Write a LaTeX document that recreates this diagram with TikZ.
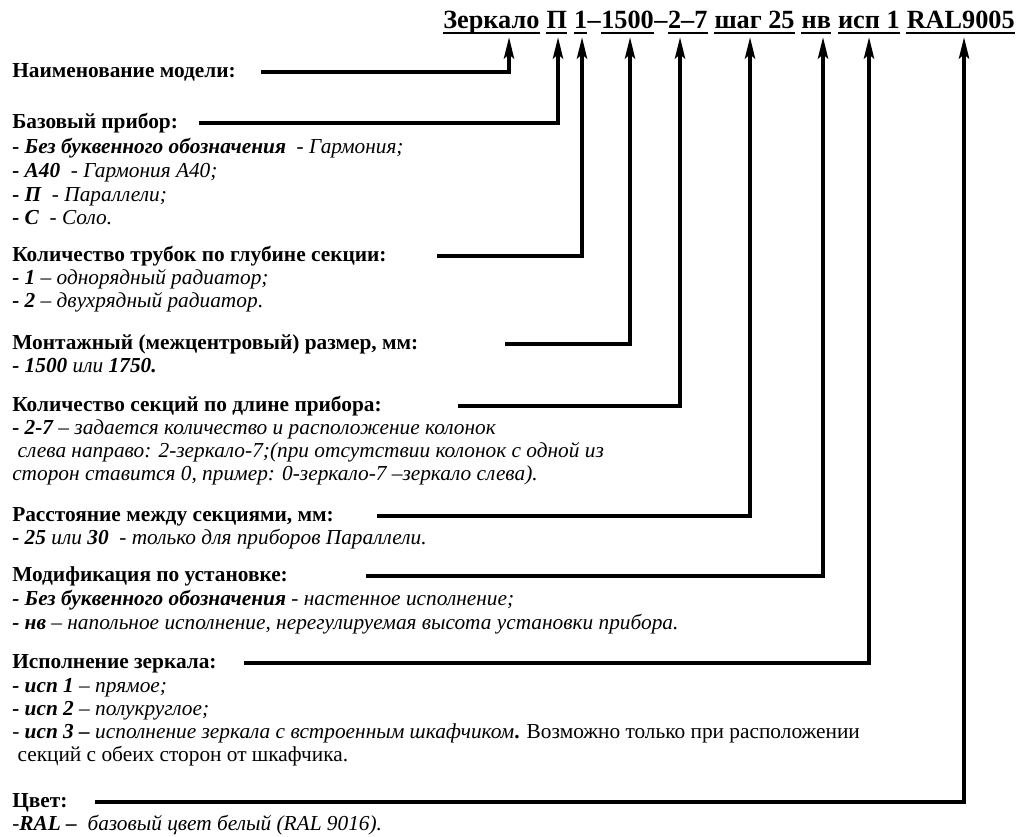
\documentclass[tikz,border=0pt]{standalone}
\usepackage{fontspec}
\setmainfont{Liberation Serif}
\usetikzlibrary{arrows.meta}
\begin{document}
\begin{tikzpicture}[x=0.75pt,y=-0.75pt,
  hd/.style={anchor=base west, inner sep=0pt, font=\fontsize{16}{19}\selectfont\bfseries},
  it/.style={anchor=base west, inner sep=0pt, font=\fontsize{16}{19}\selectfont\itshape},
  rm/.style={anchor=base west, inner sep=0pt, font=\fontsize{16}{19}\selectfont},
  seg/.style={anchor=base east, inner sep=0pt, font=\fontsize{19.7}{23}\selectfont\bfseries},
  uline/.style={line width=1.5pt},
  conn/.style={line width=3pt, -{Stealth[length=16pt,width=7.5pt,inset=3pt]}},
]
\useasboundingbox (0,0) rectangle (1016,836);
% title segments, built from the right
\node[seg] (h11) at (1015,28) {RAL9005};
\node[seg] (h10) at ([xshift=-4.9pt]h11.base west) {исп 1};
\node[seg] (h9) at ([xshift=-4.9pt]h10.base west) {нв};
\node[seg] (h8) at ([xshift=-4.9pt]h9.base west) {шаг 25};
\node[seg] (h7) at ([xshift=-4.9pt]h8.base west) {2–7};
\node[seg] (h6) at (h7.base west) {–};
\node[seg] (h5) at (h6.base west) {1500};
\node[seg] (h4) at (h5.base west) {–};
\node[seg] (h3) at (h4.base west) {1};
\node[seg] (h2) at ([xshift=-4.9pt]h3.base west) {П};
\node[seg] (h1) at ([xshift=-4.9pt]h2.base west) {Зеркало};
\foreach \h in {h1,h2,h3,h5,h7,h8,h9,h10,h11}
  \draw[uline] ([yshift=-3.8pt]\h.base west) -- ([yshift=-3.8pt]\h.base east);
\foreach \n/\x in {t1/509,t2/558,t3/582,t4/630,t5/680,t6/750,t7/823,t8/869,t9/964}
  \coordinate (\n) at (\x,37);
% texts
\node[hd] (n1) at (12,77) {Наименование модели:};
\node[hd] (n2) at (12,128) {Базовый прибор:};
\node[it] (i21) at (12,153) {{\bfseries - Без буквенного обозначения}\ \ - Гармония;};
\node[it] (i22) at (12,177) {{\bfseries - А40}\ \ - Гармония А40;};
\node[it] (i23) at (12,201) {{\bfseries - П}\ \ - Параллели;};
\node[it] (i24) at (12,224) {{\bfseries - С}\ \ - Соло.};
\node[hd] (n3) at (12,261) {Количество трубок по глубине секции:};
\node[it] (i31) at (12,284) {{\bfseries - 1} – однорядный радиатор;};
\node[it] (i32) at (12,307) {{\bfseries - 2} – двухрядный радиатор{\upshape .}};
\node[hd] (n4) at (12,349) {Монтажный (межцентровый) размер, мм:};
\node[it] (i41) at (12,372) {{\bfseries - 1500} или {\bfseries 1750.}};
\node[hd] (n5) at (12,411) {Количество секций по длине прибора:};
\node[it] (i51) at (12,434) {{\bfseries - 2-7} – задается количество и расположение колонок};
\node[it] (i52) at (12,457) {\ слева направо: 2-зеркало-7;(при отсутствии колонок с одной из};
\node[it] (i53) at (12,480) {сторон ставится 0, пример: 0-зеркало-7 –зеркало слева).};
\node[hd] (n6) at (12,521) {Расстояние между секциями, мм:};
\node[it] (i61) at (12,544) {{\bfseries - 25} или {\bfseries 30}\ \ - только для приборов Параллели.};
\node[hd] (n7) at (12,581) {Модификация по установке:};
\node[it] (i71) at (12,605) {{\bfseries - Без буквенного обозначения} - настенное исполнение;};
\node[it] (i72) at (12,629) {{\bfseries - нв} – напольное исполнение, нерегулируемая высота установки прибора.};
\node[hd] (n8) at (12,668) {Исполнение зеркала:};
\node[it] (i81) at (12,692) {{\bfseries - исп 1} – прямое;};
\node[it] (i82) at (12,715) {{\bfseries - исп 2} – полукруглое;};
\node[rm] (i83) at (12,738) {- {\bfseries\itshape исп 3 – }{\itshape исполнение зеркала с встроенным шкафчиком}{\bfseries .} Возможно только при расположении};
\node[rm] (i84) at (12,761) {\ секций с обеих сторон от шкафчика.};
\node[hd] (n9) at (12,807) {Цвет:};
\node[it] (i91) at (12,830) {{\upshape\mdseries -}{\bfseries RAL –}\ \ базовый цвет белый (RAL 9016).};
% line starts
\coordinate (s1) at ([xshift=19pt,yshift=3.75pt]n1.base east);
\coordinate (s2) at (199,123);
\coordinate (s3) at (437,256);
\coordinate (s4) at (505,344);
\coordinate (s5) at (458,406);
\coordinate (s6) at (377,516);
\coordinate (s7) at (366,576);
\coordinate (s8) at (244,663);
\coordinate (s9) at (95,802);
\foreach \i in {1,...,9}
  \draw[conn] (s\i) -| (t\i);
\end{tikzpicture}
\end{document}
